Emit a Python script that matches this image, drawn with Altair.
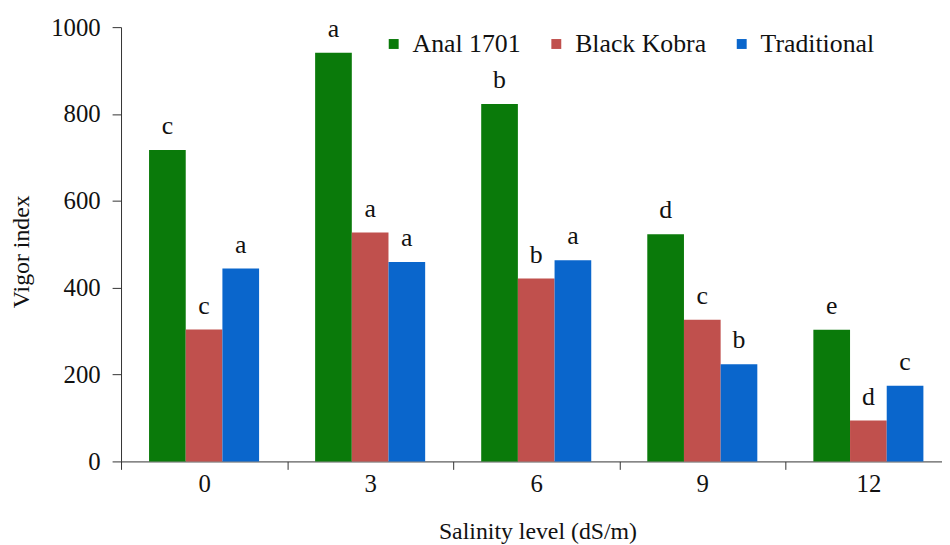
import altair as alt
import pandas as pd

levels = ["0", "3", "6", "9", "12"]
varieties = ["Anal 1701", "Black Kobra", "Traditional"]
anal = [717, 941, 823, 523, 303]
black = [304, 527, 421, 326, 94]
trad = [444, 459, 463, 224, 174]
anal_sig = ["c", "a", "b", "d", "e"]
black_sig = ["c", "a", "b", "c", "d"]
trad_sig = ["a", "a", "a", "b", "c"]
colors = ["#0a7a0a", "#c0504d", "#0a66cc"]

rows = []
for name, vals, sig in zip(varieties, [anal, black, trad], [anal_sig, black_sig, trad_sig]):
    for lv, v, s in zip(levels, vals, sig):
        rows.append({"Salinity": lv, "Variety": name, "Vigor": v, "Sig": s})
df = pd.DataFrame(rows)

FONT = "Liberation Serif"

x_enc = alt.X(
    "Salinity:N",
    sort=levels,
    scale=alt.Scale(domain=levels, range=[0, 837.5], paddingInner=0, paddingOuter=0),
    axis=alt.Axis(
        title="Salinity level (dS/m)",
        labelAngle=0,
        tickBand="extent",
        tickSize=8,
        labelPadding=2,
        labelFontSize=25,
        labelFont=FONT,
        labelColor="#111",
        titleFontSize=24,
        titleFont=FONT,
        titleFontWeight="normal",
        titleColor="#111",
        titlePadding=24,
        titleX=420,
        domainColor="#333",
        tickColor="#333",
        grid=False,
    ),
)
xo_enc = alt.XOffset(
    "Variety:N",
    sort=varieties,
    scale=alt.Scale(domain=varieties, paddingInner=0, paddingOuter=0.764),
)
y_enc = alt.Y(
    "Vigor:Q",
    scale=alt.Scale(domain=[0, 1000], nice=False),
    axis=alt.Axis(
        title="Vigor index",
        values=[0, 200, 400, 600, 800, 1000],
        format="d",
        tickSize=9,
        labelPadding=12,
        labelFontSize=25,
        labelFont=FONT,
        labelColor="#111",
        titleFontSize=24,
        titleFont=FONT,
        titleFontWeight="normal",
        titleColor="#111",
        titlePadding=17,
        titleY=226,
        domainColor="#333",
        tickColor="#333",
        grid=False,
    ),
)

bars = alt.Chart(df).mark_bar(strokeWidth=0).encode(
    x=x_enc,
    xOffset=xo_enc,
    y=y_enc,
    color=alt.Color(
        "Variety:N",
        sort=varieties,
        scale=alt.Scale(domain=varieties, range=colors),
        legend=alt.Legend(
            orient="none",
            legendX=262,
            legendY=4,
            direction="horizontal",
            title=None,
            symbolType="square",
            symbolSize=100,
            symbolStrokeWidth=0,
            labelFontSize=26,
            labelFont=FONT,
            labelColor="#111",
            labelOffset=6,
            columnPadding=22,
            padding=0,
        ),
    ),
)

labels = alt.Chart(df).mark_text(
    dy=-16, baseline="alphabetic", fontSize=26, font=FONT, color="#111"
).encode(
    x=alt.X("Salinity:N", sort=levels),
    xOffset=alt.XOffset("Variety:N", sort=varieties),
    y=alt.Y("Vigor:Q"),
    text="Sig:N",
)

chart = (
    alt.layer(bars, labels)
    .properties(
        width=828,
        height=438,
        autosize=alt.AutoSizeParams(type="none"),
        padding={"left": 114, "top": 17, "right": 0, "bottom": 82},
    )
    .configure(background="white", font=FONT)
    .configure_view(stroke=None)
    .configure_legend(labelFont=FONT, labelFontSize=26)
    .configure_axis(labelFont=FONT, titleFont=FONT)
)

chart.save("out.html", embed_options={"renderer": "svg", "actions": False})
